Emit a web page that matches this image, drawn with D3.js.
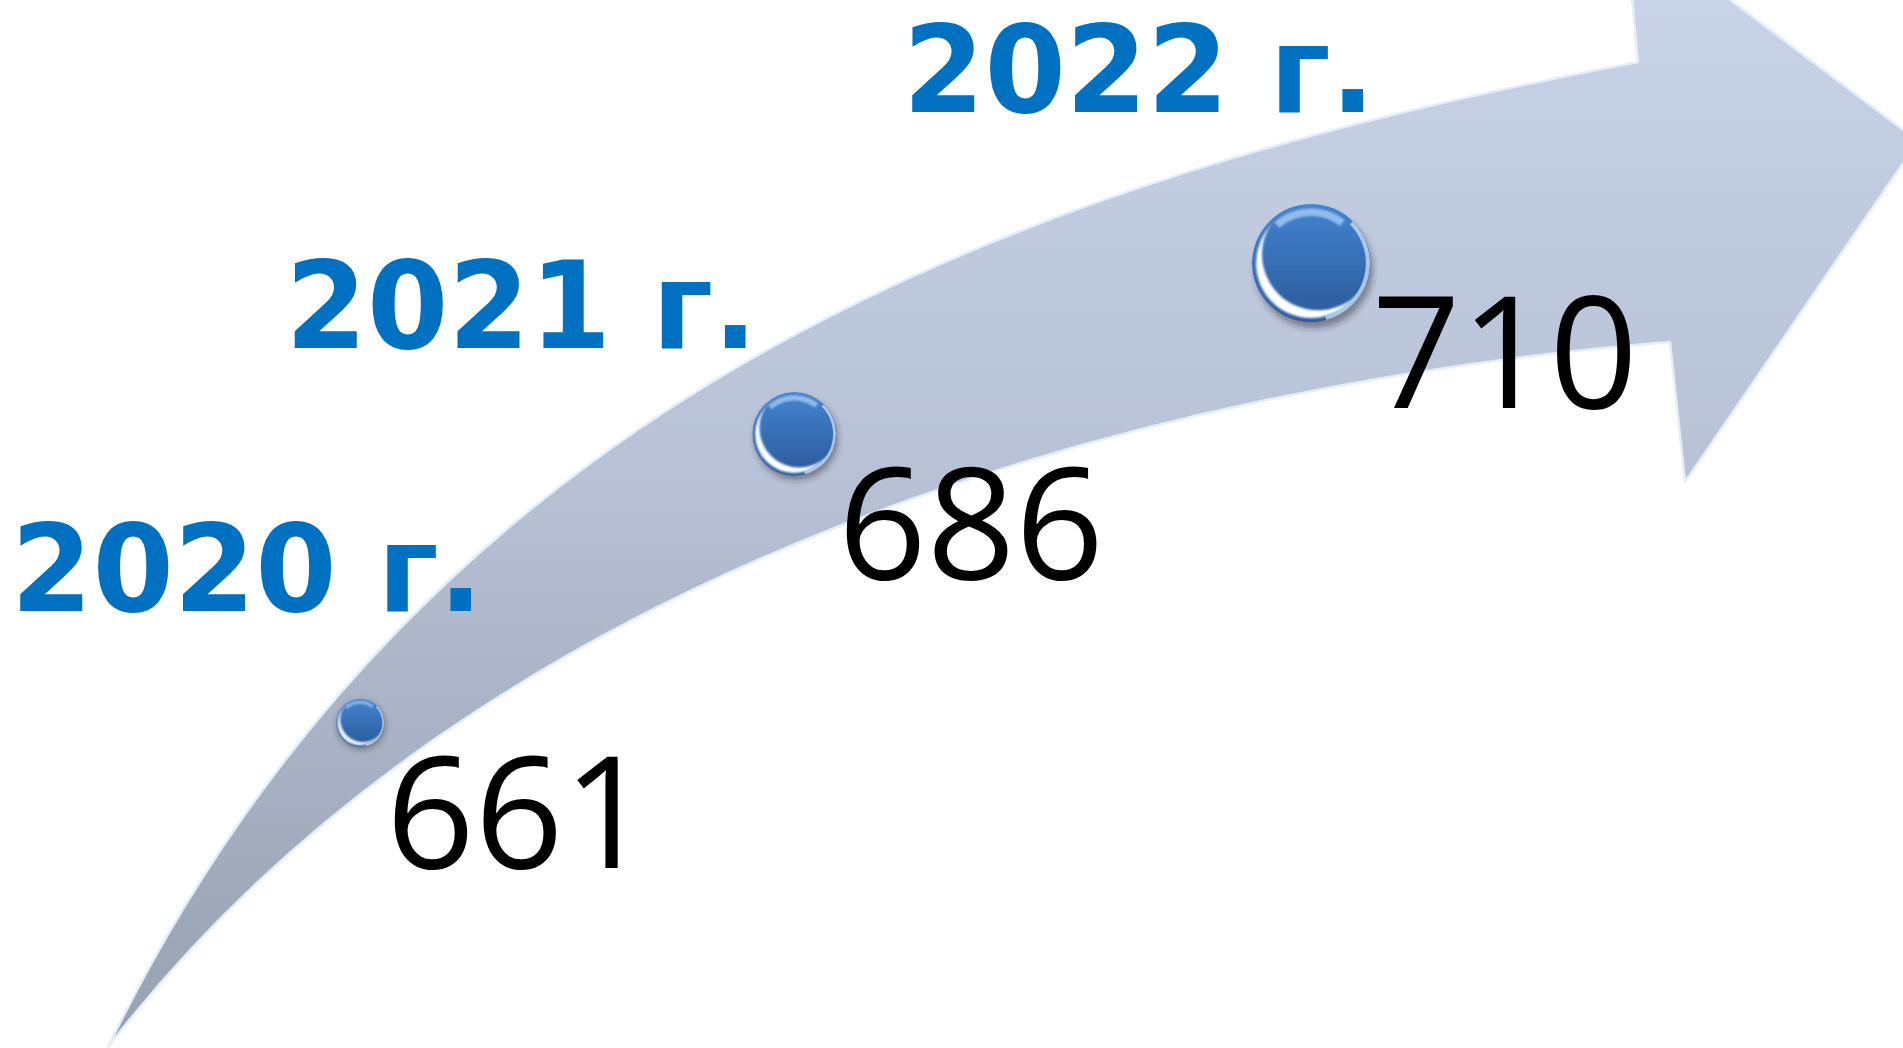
<!DOCTYPE html>
<html>
<head>
<meta charset="utf-8">
<script src="https://cdn.jsdelivr.net/npm/d3@7"></script>
<style>
  body { margin: 0; background: #fff; overflow: hidden; }
</style>
</head>
<body>
<svg width="1903" height="1048"></svg>
<script>
// data
const years = [2020, 2021, 2022];
const values = [661, 686, 710];
const yearLabels = years.map(y => y + ' г.');

const svg = d3.select('svg');
const height = +svg.attr('height');

const defs = svg.append('defs');

const bandGrad = defs.append('linearGradient')
  .attr('id', 'band')
  .attr('gradientUnits', 'userSpaceOnUse')
  .attr('x1', 0).attr('y1', 0).attr('x2', 0).attr('y2', height);
bandGrad.append('stop').attr('offset', '0%').attr('stop-color', '#c8d3e8');
bandGrad.append('stop').attr('offset', '45%').attr('stop-color', '#b8c1d5');
bandGrad.append('stop').attr('offset', '100%').attr('stop-color', '#98a1b1');

const ballGrad = defs.append('linearGradient')
  .attr('id', 'ball')
  .attr('x1', 0).attr('y1', 0).attr('x2', 0).attr('y2', 1);
ballGrad.append('stop').attr('offset', '0%').attr('stop-color', '#4685d2');
ballGrad.append('stop').attr('offset', '100%').attr('stop-color', '#2c5e9f');

const shadow = defs.append('filter').attr('id', 'shadow')
  .attr('x', '-50%').attr('y', '-50%').attr('width', '200%').attr('height', '200%');
shadow.append('feGaussianBlur').attr('stdDeviation', 3);

const soft = defs.append('filter').attr('id', 'soft')
  .attr('x', '-50%').attr('y', '-50%').attr('width', '200%').attr('height', '200%');
soft.append('feGaussianBlur').attr('stdDeviation', 1.3);

// arrow geometry (decoration): two cubic edges and the head
const upperEdge = [[108, 1047], [430, 385], [1038, 176], [1638, 62]];
const head = [[1625, -79], [1918, 141], [1685, 482], [1670, 342]];
const lowerEdge = [[108, 1047], [488, 553], [1170, 382], [1670, 342]];
const spine = [[108, 1047], [518, 387], [957, 388], [1744, 134]];

const arrow = d3.path();
arrow.moveTo(...upperEdge[0]);
arrow.bezierCurveTo(...upperEdge[1], ...upperEdge[2], ...upperEdge[3]);
head.forEach(p => arrow.lineTo(...p));
arrow.bezierCurveTo(...lowerEdge[2], ...lowerEdge[1], ...lowerEdge[0]);
arrow.closePath();

svg.append('path')
  .attr('d', arrow.toString())
  .attr('fill', 'url(#band)')
  .attr('stroke', '#e4edfa')
  .attr('stroke-width', 2.5)
  .attr('stroke-linejoin', 'round');

const bezierAt = (pts, t) => {
  const u = 1 - t;
  const c = [u * u * u, 3 * u * u * t, 3 * u * t * t, t * t * t];
  return [d3.sum(pts, (p, i) => c[i] * p[0]), d3.sum(pts, (p, i) => c[i] * p[1])];
};

// value -> position along the arrow's spine, value -> ball size
const tScale = d3.scaleLinear()
  .domain([d3.min(values), d3.max(values)])
  .range([0.2, 0.8]);

const rScale = d3.scaleLinear()
  .domain([d3.min(values), d3.max(values)])
  .range([24, 59]);

const points = values.map((v, i) => {
  const [x, y] = bezierAt(spine, tScale(v));
  return { i, year: years[i], label: yearLabels[i], value: v, x, y, r: rScale(v) };
});

const deg = Math.PI / 180;

points.forEach(d => {
  defs.append('clipPath').attr('id', 'clip' + d.i)
    .append('circle').attr('r', d.r);
});

const balls = svg.selectAll('g.ball').data(points)
  .enter().append('g')
    .attr('class', 'ball')
    .attr('transform', d => `translate(${d.x},${d.y})`);

balls.append('circle')
  .attr('cx', d => d.r * 0.05)
  .attr('cy', d => d.r * 0.1)
  .attr('r', d => d.r)
  .attr('fill', 'rgba(40,40,50,0.45)')
  .attr('filter', 'url(#shadow)');

const inner = balls.append('g')
  .attr('clip-path', d => `url(#clip${d.i})`);

inner.append('circle')
  .attr('r', d => d.r)
  .attr('fill', 'url(#ball)');

// lower-left crescent: white disc partly covered by a shifted blue disc
inner.append('circle')
  .attr('r', d => d.r * 0.93)
  .attr('fill', '#ffffff')
  .attr('filter', 'url(#soft)');

inner.append('circle')
  .attr('cx', d => d.r * 0.12)
  .attr('cy', d => -d.r * 0.15)
  .attr('r', d => d.r * 0.95)
  .attr('fill', 'url(#ball)')
  .attr('filter', 'url(#soft)');

// top glint
inner.append('path')
  .attr('d', d => d3.arc()({ innerRadius: d.r * 0.8, outerRadius: d.r * 0.93,
    startAngle: -42 * deg, endAngle: 38 * deg, cornerRadius: d.r * 0.06 }))
  .attr('fill', '#a6cbf5')
  .attr('opacity', 0.8)
  .attr('filter', 'url(#soft)');

// right rim
inner.append('path')
  .attr('d', d => d3.arc()({ innerRadius: d.r * 0.93, outerRadius: d.r,
    startAngle: 45 * deg, endAngle: 165 * deg, cornerRadius: d.r * 0.03 }))
  .attr('fill', '#dcebfd')
  .attr('opacity', 0.7);

// value labels
svg.selectAll('text.value').data(points)
  .enter().append('text')
    .attr('class', 'value')
    .attr('x', d => d.x + d.r + 2)
    .attr('y', d => d.y + 145)
    .attr('font-family', '"Open Sans", "Noto Sans", sans-serif')
    .attr('font-size', 155)
    .attr('fill', '#000')
    .text(d => d.value);

// year labels
const yearX = d3.scalePow().exponent(1.7).domain([0, years.length - 1]).range([11, 903]);
const yearY = d3.scalePow().exponent(0.924).domain([0, years.length - 1]).range([611, 112]);

svg.selectAll('text.year').data(points)
  .enter().append('text')
    .attr('class', 'year')
    .attr('x', d => yearX(d.year - years[0]))
    .attr('y', d => yearY(d.year - years[0]))
    .attr('font-family', '"DejaVu Sans", Verdana, sans-serif')
    .attr('font-weight', 'bold')
    .attr('font-size', 121)
    .attr('fill', '#0070c0')
    .attr('textLength', 472)
    .attr('lengthAdjust', 'spacingAndGlyphs')
    .text(d => d.label);
</script>
</body>
</html>
